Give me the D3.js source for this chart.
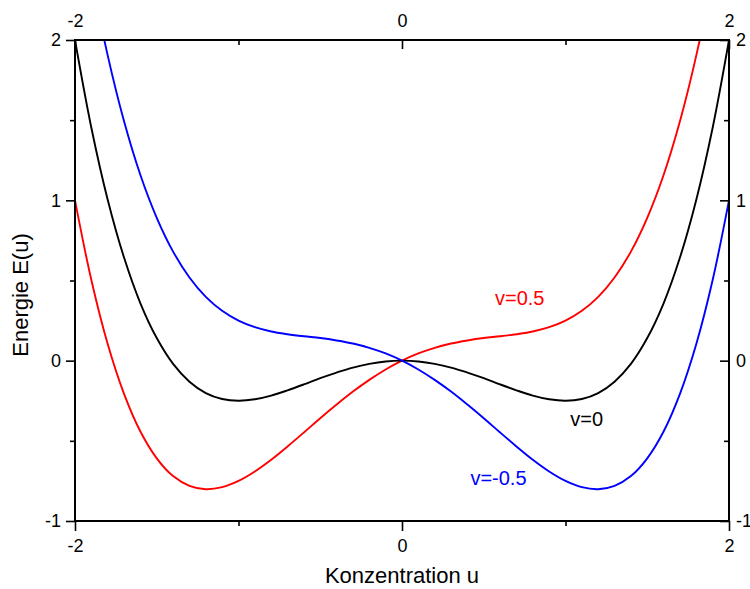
<!DOCTYPE html>
<html>
<head>
<meta charset="utf-8">
<script src="https://cdn.jsdelivr.net/npm/d3@7"></script>
<style>
  html, body { margin: 0; padding: 0; background: #fff; }
  svg { display: block; font-family: "Liberation Sans", Arial, sans-serif; }
</style>
</head>
<body>
<svg id="chart" width="750" height="589"></svg>
<script>
// Sampled concentration values u
const uValues = [-2.0,-1.9,-1.8,-1.7,-1.6,-1.5,-1.4,-1.3,-1.2,-1.1,-1.0,-0.9,-0.8,-0.7,-0.6,-0.5,-0.4,-0.3,-0.2,-0.1,
  0.0,0.1,0.2,0.3,0.4,0.5,0.6,0.7,0.8,0.9,1.0,1.1,1.2,1.3,1.4,1.5,1.6,1.7,1.8,1.9,2.0];
const energyV0 = [2.0,1.453,1.004,0.643,0.358,0.141,-0.020,-0.131,-0.202,-0.239,-0.25,-0.241,-0.218,-0.185,-0.148,-0.109,-0.074,-0.043,-0.020,-0.005,
  0.0,-0.005,-0.020,-0.043,-0.074,-0.109,-0.148,-0.185,-0.218,-0.241,-0.25,-0.239,-0.202,-0.131,-0.020,0.141,0.358,0.643,1.004,1.453,2.0];
const energyVpos = [1.0,0.503,0.104,-0.207,-0.442,-0.609,-0.720,-0.781,-0.802,-0.789,-0.75,-0.691,-0.618,-0.535,-0.448,-0.359,-0.274,-0.193,-0.120,-0.055,
  0.0,0.045,0.080,0.107,0.126,0.141,0.152,0.165,0.182,0.209,0.25,0.311,0.398,0.519,0.680,0.891,1.158,1.493,1.904,2.403,3.0];
const energyVneg = [3.0,2.403,1.904,1.493,1.158,0.891,0.680,0.519,0.398,0.311,0.25,0.209,0.182,0.165,0.152,0.141,0.126,0.107,0.080,0.045,
  0.0,-0.055,-0.120,-0.193,-0.274,-0.359,-0.448,-0.535,-0.618,-0.691,-0.75,-0.789,-0.802,-0.781,-0.720,-0.609,-0.442,-0.207,0.104,0.503,1.0];

const seriesNames = ["v=0.5", "v=0", "v=-0.5"];
const seriesColors = ["#ff0000", "#000000", "#0000ff"];

const xMajor = [-2, 0, 2];
const xMinor = [-1, 1];
const yMajor = [-1, 0, 1, 2];
const yMinor = [-0.5, 0.5, 1.5];

const xLabel = "Konzentration u";
const yLabel = "Energie E(u)";

const svg = d3.select("#chart");
const L = 75, R = 729, T = 40, B = 521;
const x = d3.scaleLinear().domain([-2, 2]).range([L, R]);
const y = d3.scaleLinear().domain([-1, 2]).range([B, T]);
const fmt = d => String(d);

svg.append("defs").append("clipPath").attr("id", "plotClip")
  .append("rect").attr("x", L).attr("y", T).attr("width", R - L).attr("height", B - T);

const series = [
  { name: seriesNames[0], color: seriesColors[0], values: energyVpos },
  { name: seriesNames[1], color: seriesColors[1], values: energyV0 },
  { name: seriesNames[2], color: seriesColors[2], values: energyVneg }
];

const line = d3.line()
  .x(d => x(d[0]))
  .y(d => y(d[1]))
  .curve(d3.curveCatmullRom.alpha(0.5));

const gLines = svg.append("g").attr("clip-path", "url(#plotClip)");
series.forEach(s => {
  gLines.append("path")
    .datum(uValues.map((u, i) => [u, s.values[i]]))
    .attr("fill", "none")
    .attr("stroke", s.color)
    .attr("stroke-width", 1.9)
    .attr("d", line);
});

function styleAxis(g) {
  g.select(".domain").remove();
  g.selectAll(".tick line").attr("stroke", "#000").attr("stroke-width", 1.6);
  g.selectAll("text").attr("font-size", 18).attr("fill", "#000")
    .attr("font-family", "'Liberation Sans', Arial, sans-serif");
}

// minor ticks
svg.append("g").attr("transform", `translate(${L},0)`)
  .call(d3.axisLeft(y).tickValues(yMinor).tickSize(5).tickFormat(""))
  .call(styleAxis);
svg.append("g").attr("transform", `translate(${R},0)`)
  .call(d3.axisRight(y).tickValues(yMinor).tickSize(-5).tickFormat(""))
  .call(styleAxis);
svg.append("g").attr("transform", `translate(0,${B})`)
  .call(d3.axisBottom(x).tickValues(xMinor).tickSize(5).tickFormat(""))
  .call(styleAxis);
svg.append("g").attr("transform", `translate(0,${T})`)
  .call(d3.axisTop(x).tickValues(xMinor).tickSize(-5).tickFormat(""))
  .call(styleAxis);

// major ticks
svg.append("g").attr("transform", `translate(${L},0)`)
  .call(d3.axisLeft(y).tickValues(yMajor).tickSize(9).tickPadding(5).tickFormat(fmt))
  .call(styleAxis);
svg.append("g").attr("transform", `translate(${R},0)`)
  .call(d3.axisRight(y).tickValues(yMajor).tickSize(-9).tickPadding(7).tickFormat(fmt))
  .call(styleAxis);
svg.append("g").attr("transform", `translate(0,${B})`)
  .call(d3.axisBottom(x).tickValues(xMajor).tickSize(10).tickPadding(8).tickFormat(fmt))
  .call(styleAxis);
svg.append("g").attr("transform", `translate(0,${T})`)
  .call(d3.axisTop(x).tickValues(xMajor).tickSize(-9).tickPadding(13).tickFormat(fmt))
  .call(styleAxis);

// frame
svg.append("rect")
  .attr("x", L).attr("y", T).attr("width", R - L).attr("height", B - T)
  .attr("fill", "none").attr("stroke", "#000").attr("stroke-width", 2);

// axis titles
svg.append("text")
  .attr("x", (L + R) / 2).attr("y", 583)
  .attr("text-anchor", "middle").attr("font-size", 22)
  .text(xLabel);
svg.append("text")
  .attr("transform", `translate(28,${295}) rotate(-90)`)
  .attr("text-anchor", "middle").attr("font-size", 22)
  .text(yLabel);

// curve labels
const labelPos = [
  { u: 0.72, e: 0.38 },
  { u: 1.13, e: -0.375 },
  { u: 0.59, e: -0.74 }
];
series.forEach((s, i) => {
  svg.append("text")
    .attr("x", x(labelPos[i].u)).attr("y", y(labelPos[i].e))
    .attr("text-anchor", "middle").attr("dominant-baseline", "middle")
    .attr("font-size", 20).attr("fill", s.color)
    .text(s.name);
});
</script>
</body>
</html>
